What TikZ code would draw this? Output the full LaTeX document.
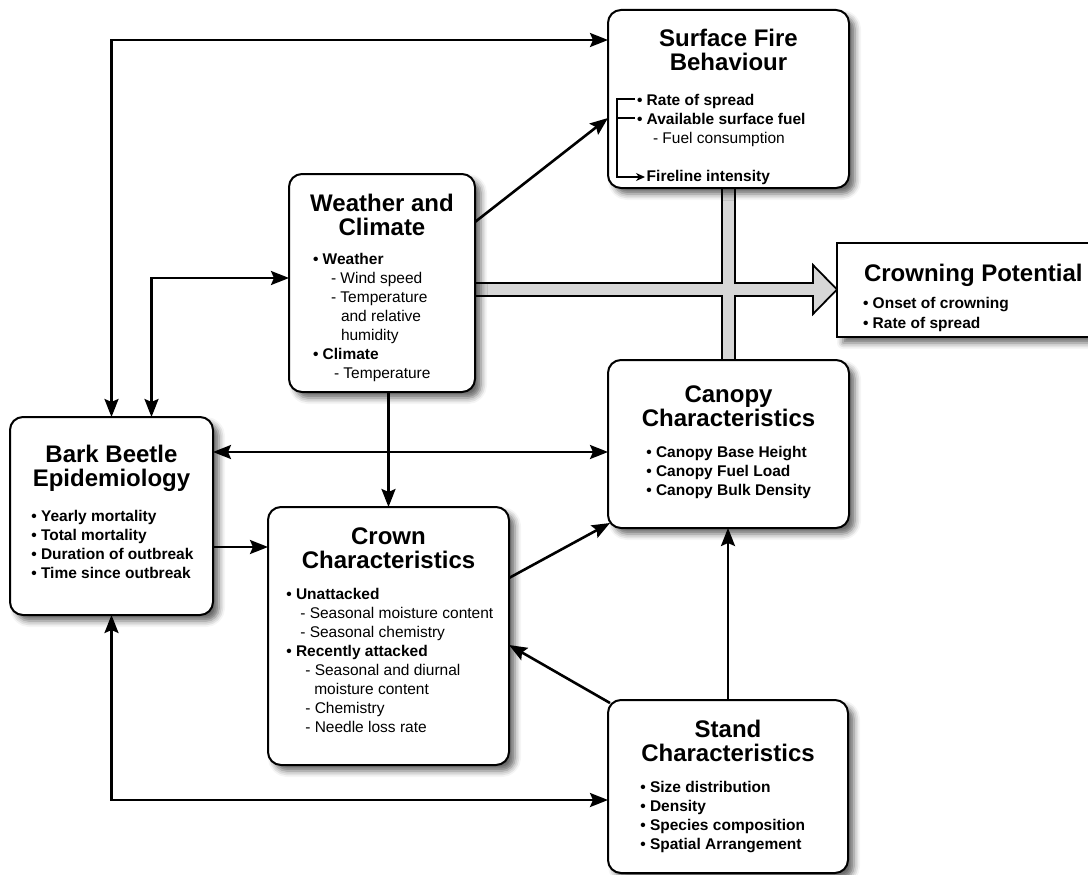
\documentclass[tikz,border=0pt]{standalone}
\usepackage{fontspec}
\setmainfont{Liberation Sans}
\usetikzlibrary{positioning,arrows.meta,shadows.blur}
\definecolor{bargray}{RGB}{214,214,214}
\newcommand{\lind}[2]{\hspace*{#1pt}{\mdseries #2}}

\begin{document}
\begin{tikzpicture}[x=1pt, y=-1pt, line width=2pt,
    >={Stealth[length=18pt,width=14pt,inset=3pt]},
    box/.style={draw, rounded corners=13pt, fill=white, inner sep=0pt, outer sep=0pt,
      blur shadow={shadow xshift=6pt, shadow yshift=-6pt, shadow blur radius=6pt, shadow opacity=60}},
    title/.style={align=center, inner sep=0pt, font=\bfseries\fontsize{24}{24}\selectfont},
    items/.style={align=left, inner sep=0pt, font=\bfseries\fontsize{15.5}{19}\selectfont},
    link/.style={line width=2.6pt}]
  \useasboundingbox (0,0) rectangle (1088,875);

  \draw[line width=1.8pt, fill=bargray, line join=miter]
    (475,283) -- (722,283) -- (722,188) -- (735,188) -- (735,283) -- (813,283) -- (813,265)
    -- (837,289.5) -- (813,314) -- (813,296) -- (735,296) -- (735,360) -- (722,360)
    -- (722,296) -- (475,296) -- cycle;

  \node[box, minimum width=241pt, minimum height=178pt] (fire) at (728.5,99) {};
  \node[box, minimum width=186pt, minimum height=218pt] (weather) at (382,283) {};
  \node[box, minimum width=203pt, minimum height=198pt] (beetle) at (111.5,516) {};
  \node[box, minimum width=241pt, minimum height=258pt] (crown) at (388.5,636) {};
  \node[box, minimum width=241pt, minimum height=168pt] (canopy) at (728.5,444) {};
  \node[box, minimum width=240pt, minimum height=173pt] (stand) at (728,786.5) {};
  \node[box, rounded corners=0pt, minimum width=258pt, minimum height=94pt] (crowning) at (966,290) {};

  \node[title, below=18.5pt of fire.north] {Surface Fire\\Behaviour};
  \node[items, below right=83.4pt and 28pt of fire.north west]
    {• Rate of spread\\• Available surface fuel\\\lind{16}{- Fuel consumption}\\[19pt]\phantom{• }Fireline intensity};
  \draw[line width=1.6pt] (635,118) -- (617,118);
  \draw[line width=1.6pt, -{Stealth[length=9pt,width=8pt]}] (635,99) -- (617,99) |- (645,177);

  \node[title, below=19pt of weather.north] {Weather and\\Climate};
  \node[items, below right=78.4pt and 23pt of weather.north west]
    {• Weather\\\lind{18}{- Wind speed}\\\lind{18}{- Temperature}\\\lind{28}{and relative}\\\lind{28}{humidity}\\• Climate\\\lind{21}{- Temperature}};

  \node[title, below=27.3pt of beetle.north] {Bark Beetle\\Epidemiology};
  \node[items, below right=92.4pt and 20.3pt of beetle.north west]
    {• Yearly mortality\\• Total mortality\\• Duration of outbreak\\• Time since outbreak};

  \node[title, below=19.3pt of crown.north] {Crown\\Characteristics};
  \node[items, below right=80.4pt and 17.3pt of crown.north west]
    {• Unattacked\\\lind{14}{- Seasonal moisture content}\\\lind{14}{- Seasonal chemistry}\\• Recently attacked\\\lind{19}{- Seasonal and diurnal}\\\lind{28}{moisture content}\\\lind{19}{- Chemistry}\\\lind{19}{- Needle loss rate}};

  \node[title, below=24.3pt of canopy.north] {Canopy\\Characteristics};
  \node[items, below right=85.4pt and 37.3pt of canopy.north west]
    {• Canopy Base Height\\• Canopy Fuel Load\\• Canopy Bulk Density};

  \node[title, below=19.3pt of stand.north] {Stand\\Characteristics};
  \node[items, below right=80.4pt and 31.3pt of stand.north west]
    {• Size distribution\\• Density\\• Species composition\\• Spatial Arrangement};

  \node[title, below right=20.3pt and 26pt of crowning.north west] {Crowning Potential};
  \node[items, below right=53pt and 25pt of crowning.north west, font=\bfseries\fontsize{15.5}{20}\selectfont]
    {• Onset of crowning\\• Rate of spread};

  \coordinate (top1) at ([yshift=59pt]fire.west);
  \coordinate (top2) at ([yshift=5pt]weather.west);
  \coordinate (mid1) at ([yshift=64pt]beetle.east);
  \coordinate (mid2) at ([yshift=-31pt]beetle.east);
  \coordinate (low1) at ([yshift=-13.5pt]stand.west);

  \draw[link, <->] (beetle.north) |- (top1);
  \draw[link, <->] ([xshift=40pt]beetle.north) |- (top2);
  \draw[link, ->] ([yshift=61pt]weather.east) -- ([yshift=-19pt]fire.west);
  \draw[link, ->] (crown.north |- weather.south) -- (crown.north);
  \draw[link, <->] (mid1) -- (mid1 -| canopy.west);
  \draw[link, ->] (mid2) -- (mid2 -| crown.west);
  \draw[link, ->] ([yshift=58pt]crown.east) -- ([xshift=2pt, yshift=5pt]canopy.south west);
  \draw[link, ->] ([xshift=2pt, yshift=-3pt]stand.north west) -- ([yshift=-9pt]crown.east);
  \draw[link, ->] (stand.north) -- (stand.north |- canopy.south);
  \draw[link, <->] (beetle.south) |- (low1);
\end{tikzpicture}
\end{document}
